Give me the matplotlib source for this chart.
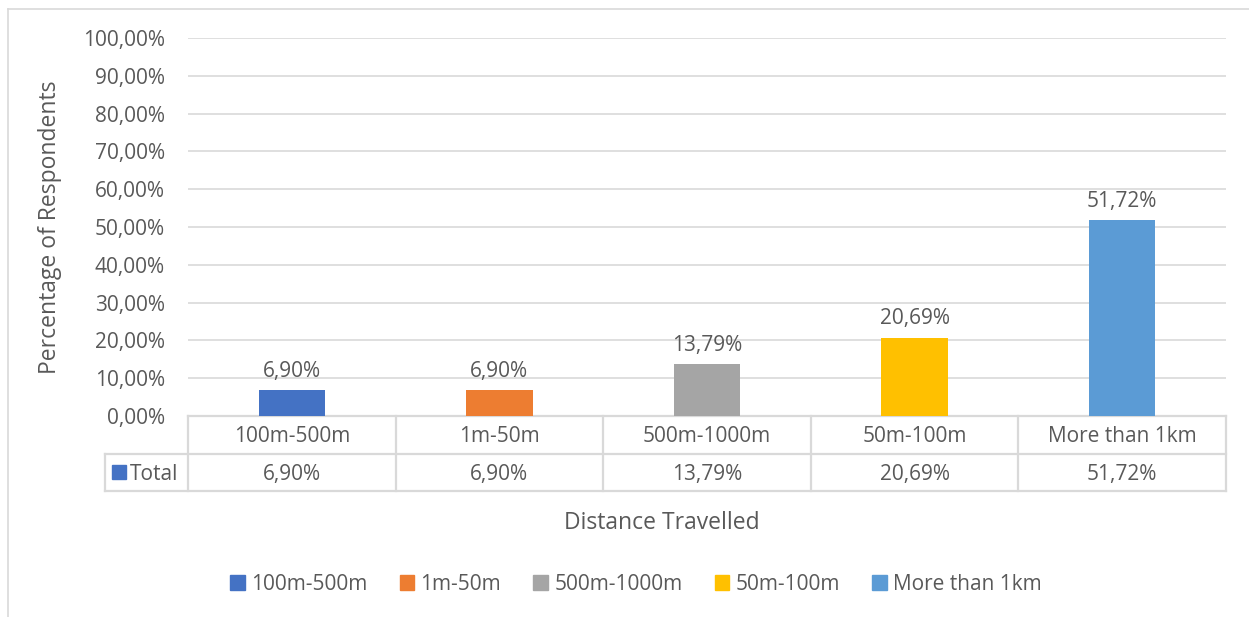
import matplotlib
matplotlib.use("Agg")
import matplotlib.pyplot as plt
from matplotlib.lines import Line2D
from matplotlib.patches import Rectangle
from matplotlib.transforms import blended_transform_factory

plt.rcParams["font.family"] = ["Open Sans", "DejaVu Sans"]

# ── Data ────────────────────────────────────────────────
categories = ["100m-500m", "1m-50m", "500m-1000m", "50m-100m", "More than 1km"]
values = [0.0690, 0.0690, 0.1379, 0.2069, 0.5172]
colors = ["#4472C4", "#ED7D31", "#A5A5A5", "#FFC000", "#5B9BD5"]
series_name = "Total"
y_ticks = [i / 10 for i in range(11)]

TEXT = "#595959"
GRID = "#D9D9D9"
FS = 15
FS_TITLE = 16.5

W, H = 1249, 617
fig = plt.figure(figsize=(W / 100, H / 100), dpi=100)


def fx(px):
    return px / W


def fy(py):
    return 1 - py / H


# chart frame (top and left edges visible)
fig.add_artist(Line2D([fx(8), 1], [fy(9), fy(9)], color=GRID, lw=1.2))
fig.add_artist(Line2D([fx(8), fx(8)], [fy(9), 0], color=GRID, lw=1.2))

left, right, top, bottom = 188, 1226, 38, 416
ax = fig.add_axes([fx(left), fy(bottom), (right - left) / W, (bottom - top) / H])

x = list(range(len(categories)))
ax.bar(x, values, width=0.32, color=colors, zorder=3)
ax.set_xlim(-0.5, len(categories) - 0.5)
ax.set_ylim(0, 1)
ax.set_yticks(y_ticks)
ax.set_yticklabels([f"{t * 100:.2f}%".replace(".", ",") for t in y_ticks],
                   fontsize=FS, color=TEXT)
ax.tick_params(axis="y", length=0, pad=16.5)
ax.set_xticks([])
ax.grid(axis="y", color=GRID, lw=1.2, zorder=0)
for s in ax.spines.values():
    s.set_visible(False)

for xi, v in zip(x, values):
    ax.annotate(f"{v * 100:.2f}%".replace(".", ","), (xi, v),
                xytext=(0, 6), textcoords="offset points",
                ha="center", va="bottom", fontsize=FS, color=TEXT)

ax.set_ylabel("Percentage of Respondents", fontsize=FS_TITLE, color=TEXT)
ax.yaxis.set_label_coords((62 - left) / (right - left), 0.5)

# ── Data table under the axis ───────────────────────────
trans = blended_transform_factory(ax.transData, ax.transAxes)
row_h = 37.5 / (bottom - top)
nudge = 2 / (bottom - top)
y0, y1, y2 = 0, -row_h, -2 * row_h
n = len(categories)
tbl_kw = dict(color=GRID, lw=1.6, transform=trans, clip_on=False)
total_left = -0.5 - (left - 105) / ((right - left) / n)

ax.add_line(Line2D([-0.5, n - 0.5], [y0, y0], **tbl_kw))
ax.add_line(Line2D([total_left, n - 0.5], [y1, y1], **tbl_kw))
ax.add_line(Line2D([total_left, n - 0.5], [y2, y2], **tbl_kw))
ax.add_line(Line2D([total_left, total_left], [y1, y2], **tbl_kw))
for b in range(n + 1):
    ax.add_line(Line2D([b - 0.5, b - 0.5], [y0, y2], **tbl_kw))

for xi, cat, v in zip(x, categories, values):
    ax.text(xi, (y0 + y1) / 2 - nudge, cat, transform=trans, ha="center",
            va="center", fontsize=FS, color=TEXT)
    ax.text(xi, (y1 + y2) / 2 - nudge, f"{v * 100:.2f}%".replace(".", ","),
            transform=trans, ha="center", va="center", fontsize=FS, color=TEXT)

fig.add_artist(Rectangle((fx(112), fy(479)), 14 / W, 14 / H, color=colors[0]))
fig.text(fx(130), fy(474), series_name, ha="left", va="center", fontsize=FS, color=TEXT)

fig.text(fx(662), fy(523), "Distance Travelled", ha="center", va="center",
         fontsize=FS_TITLE, color=TEXT)

handles = [Rectangle((0, 0), 1, 1, color=c) for c in colors]
fig.legend(handles, categories, loc="center", bbox_to_anchor=(fx(636), fy(584)),
           ncol=n, frameon=False, fontsize=FS, labelcolor=TEXT,
           handlelength=0.7, handleheight=0.7, handletextpad=0.3,
           columnspacing=1.55)

fig.savefig("out.png", dpi=100)
